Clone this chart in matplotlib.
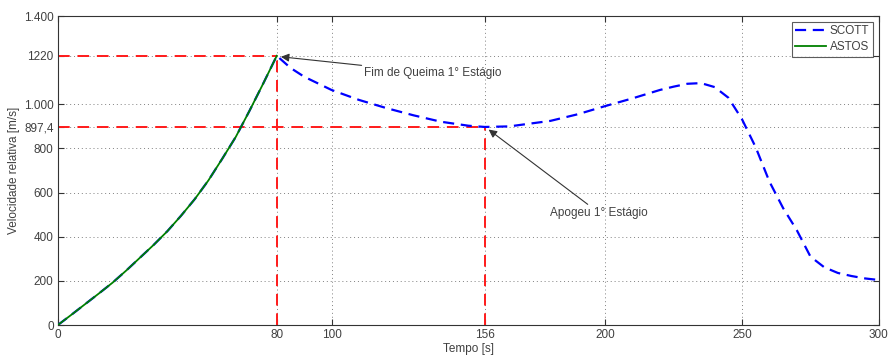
import matplotlib.pyplot as plt

plt.rcParams['font.family'] = ['Liberation Sans', 'DejaVu Sans']

# SCOTT trajectory (tempo [s], velocidade [m/s])
scott_t = [0, 5, 10, 15, 20, 25, 30, 35, 40, 45, 50, 55, 60, 65, 70, 75, 80,
           85, 90, 100, 110, 120, 130, 140, 150, 156, 165, 180, 190, 200, 210,
           220, 225, 230, 235, 240, 245, 250, 255, 260, 265, 270, 275, 280, 285,
           290, 295, 300]
scott_v = [0, 47, 95, 143, 192, 247, 305, 363, 425, 495, 570, 655, 752, 852,
           970, 1093, 1220, 1165, 1125, 1065, 1020, 983, 950, 921, 903, 897.4,
           900, 925, 955, 992, 1027, 1065, 1080, 1093, 1096, 1078, 1030, 932,
           805, 650, 530, 430, 310, 262, 236, 222, 211, 204]

# ASTOS only covers the first stage burn
astos_t = [0, 5, 10, 15, 20, 25, 30, 35, 40, 45, 50, 55, 60, 65, 70, 75, 80]
astos_v = [0, 47, 95, 143, 192, 247, 305, 363, 425, 495, 570, 655, 752, 852,
           970, 1093, 1220]

burnout_t, burnout_v = 80, 1220
apogee_t, apogee_v = 156, 897.4

xticks = [0, 80, 100, 156, 200, 250, 300]
yticks = [0, 200, 400, 600, 800, 897.4, 1000, 1220, 1400]
ylabels = ['0', '200', '400', '600', '800', '897,4', '1.000', '1220', '1.400']

txt = '#404040'
fs = 8.5
fig = plt.figure(figsize=(8.9, 3.56), dpi=100)
ax = fig.add_axes([0.065, 0.087, 0.9225, 0.868])

ax.plot(scott_t, scott_v, color='blue', ls=(0, (5, 3)), lw=1.6, label='SCOTT', zorder=3)
ax.plot(astos_t, astos_v, color='#008000', lw=1.3, label='ASTOS', zorder=4)

red = dict(color='#ff1a1a', ls=(0, (6, 4)), lw=1.4, zorder=2)
ax.plot([0, burnout_t], [burnout_v, burnout_v], **red)
ax.plot([burnout_t, burnout_t], [0, burnout_v], **red)
ax.plot([0, apogee_t], [apogee_v, apogee_v], **red)
ax.plot([apogee_t, apogee_t], [0, apogee_v], **red)

arrow = dict(arrowstyle='-|>', color='#333333', lw=0.8, mutation_scale=12,
             shrinkA=0, shrinkB=1)
ax.annotate('Fim de Queima 1° Estágio', xy=(burnout_t + 1, burnout_v - 4),
            xytext=(112, 1142), fontsize=fs, color=txt, va='center',
            arrowprops=arrow)
ax.annotate('Apogeu 1° Estágio', xy=(apogee_t + 1, apogee_v - 8),
            xytext=(180, 507), fontsize=fs, color=txt, va='center',
            arrowprops=arrow)

ax.set_xlim(0, 300)
ax.set_ylim(0, 1400)
ax.set_xticks(xticks)
ax.set_yticks(yticks)
ax.set_yticklabels(ylabels)
ax.tick_params(direction='in', length=4, width=0.8, top=True, right=True,
               labelsize=fs, labelcolor=txt, color='#333333', pad=3)
ax.grid(True, ls=(0, (1, 3)), color='#808080', lw=0.7)
for s in ax.spines.values():
    s.set_color('#333333')
    s.set_linewidth(0.8)

ax.set_xlabel('Tempo [s]', fontsize=fs, color=txt, labelpad=1)
ax.set_ylabel('Velocidade relativa [m/s]', fontsize=fs, color=txt, labelpad=3)

leg = ax.legend(loc='upper right', fontsize=fs, frameon=True, fancybox=False,
                handlelength=2.6, borderaxespad=0.5, handletextpad=0.35,
                borderpad=0.3, labelspacing=0.3)
leg.get_frame().set_edgecolor('#333333')
leg.get_frame().set_linewidth(0.8)
for t in leg.get_texts():
    t.set_color(txt)

fig.savefig('out.png', dpi=100)
